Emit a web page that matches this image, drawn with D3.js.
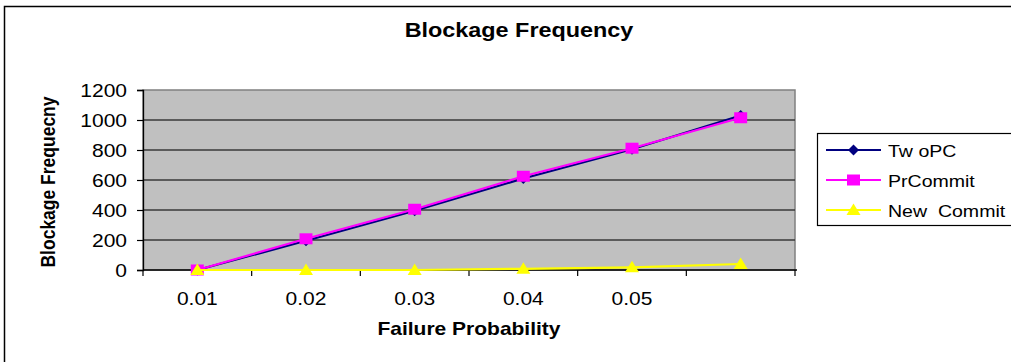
<!DOCTYPE html>
<html>
<head>
<meta charset="utf-8">
<script src="https://cdn.jsdelivr.net/npm/d3@7"></script>
<style>
  html, body { margin: 0; padding: 0; background: #fff; }
  svg { display: block; }
  text { font-family: "Liberation Sans", Arial, sans-serif; fill: #000; }
</style>
</head>
<body>
<svg id="chart" width="1011" height="362"></svg>
<script>
// Failure probability categories (last slot carries no label)
const categories = ["0.01", "0.02", "0.03", "0.04", "0.05", ""];
const tickLabels = ["0.01", "0.02", "0.03", "0.04", "0.05", ""];

// Blockage counts per protocol
const twoPC     = [0, 195, 395, 610, 805, 1030];
const prCommit  = [0, 208, 405, 625, 812, 1015];
const newCommit = [0, 0, 0, 8, 18, 40];

const seriesNames = ["Tw oPC", "PrCommit", "New  Commit"];
const yTicks = [0, 200, 400, 600, 800, 1000, 1200];

const series = [
  { name: seriesNames[0], values: twoPC,     color: "#000080", marker: "diamond" },
  { name: seriesNames[1], values: prCommit,  color: "#ff00ff", marker: "square" },
  { name: seriesNames[2], values: newCommit, color: "#ffff00", marker: "triangle" }
];

const SX = 1.2; // horizontal text stretch
const svg = d3.select("#chart");

// outer frame
svg.append("rect")
  .attr("x", 4.5).attr("y", 6.5)
  .attr("width", 1040).attr("height", 420)
  .attr("fill", "#fff").attr("stroke", "#000").attr("stroke-width", 1.5);

const plot = { left: 143, right: 795, top: 90, bottom: 270 };

const x = d3.scaleBand().domain(categories).range([plot.left, plot.right]).paddingInner(0).paddingOuter(0);
const y = d3.scaleLinear().domain([0, 1200]).range([plot.bottom, plot.top]);
const cx = c => x(c) + x.bandwidth() / 2;

function stretchedText(parent, px, py, str, sx = SX) {
  return parent.append("text")
    .attr("transform", `translate(${px},${py}) scale(${sx},1)`)
    .text(str);
}

// plot background
svg.append("rect")
  .attr("x", plot.left).attr("y", plot.top)
  .attr("width", plot.right - plot.left).attr("height", plot.bottom - plot.top)
  .attr("fill", "#c0c0c0")
  .attr("stroke", "#808080").attr("stroke-width", 1.5);

// horizontal gridlines
svg.append("g").selectAll("line")
  .data(yTicks.filter(d => d > 0 && d < 1200))
  .join("line")
  .attr("x1", plot.left).attr("x2", plot.right)
  .attr("y1", d => y(d)).attr("y2", d => y(d))
  .attr("stroke", "#3a3a3a").attr("stroke-width", 1.3);

// y axis
const yAxis = svg.append("g")
  .attr("transform", `translate(${plot.left},0)`)
  .call(d3.axisLeft(y).tickValues(yTicks).tickSize(6).tickPadding(7.3).tickFormat(d3.format("d")));
yAxis.select(".domain").attr("stroke", "#000").attr("stroke-width", 1.3);
yAxis.selectAll(".tick line").attr("stroke", "#000").attr("stroke-width", 1.2);
yAxis.selectAll(".tick text")
  .attr("font-size", 17.5)
  .attr("font-family", "Liberation Sans, Arial, sans-serif")
  .attr("fill", "#000")
  .attr("dy", "0.36em")
  .attr("transform", `scale(${SX},1)`);

// x axis: baseline, boundary ticks, centered labels
const xAxis = svg.append("g");
xAxis.append("line")
  .attr("x1", plot.left).attr("x2", plot.right + 2)
  .attr("y1", plot.bottom).attr("y2", plot.bottom)
  .attr("stroke", "#000").attr("stroke-width", 1.5);
const boundaries = categories.map(c => x(c)).concat([x.range()[1]]);
xAxis.selectAll("line.tk")
  .data(boundaries)
  .join("line")
  .attr("class", "tk")
  .attr("x1", d => d).attr("x2", d => d)
  .attr("y1", plot.bottom).attr("y2", plot.bottom + 6)
  .attr("stroke", "#000").attr("stroke-width", 1.2);
categories.forEach((c, i) => {
  stretchedText(xAxis, cx(c), 305, tickLabels[i])
    .attr("font-size", 17.5)
    .attr("text-anchor", "middle");
});

// marker shapes
function markerPath(type) {
  if (type === "diamond") return "M0,-5.5L5.5,0L0,5.5L-5.5,0Z";
  if (type === "square") return "M-6.5,-5.5H6.5V5.5H-6.5Z";
  return "M0,-6.5L7,5L-7,5Z";
}

// series lines and markers
const line = d3.line().x((d, i) => cx(categories[i])).y(d => y(d));
series.forEach(s => {
  const g = svg.append("g");
  g.append("path")
    .attr("d", line(s.values))
    .attr("fill", "none")
    .attr("stroke", s.color)
    .attr("stroke-width", 2.2);
  g.selectAll("path.m")
    .data(s.values)
    .join("path")
    .attr("class", "m")
    .attr("d", markerPath(s.marker))
    .attr("transform", (d, i) => `translate(${cx(categories[i])},${y(d)})`)
    .attr("fill", s.color);
});

// title
stretchedText(svg, 519, 37, "Blockage Frequency")
  .attr("font-size", 19.5).attr("font-weight", "bold").attr("text-anchor", "middle");

// x axis title
stretchedText(svg, (plot.left + plot.right) / 2, 335, "Failure Probability")
  .attr("font-size", 17.5).attr("font-weight", "bold").attr("text-anchor", "middle");

// y axis title
svg.append("text")
  .attr("transform", `translate(55,182) scale(${SX},1) rotate(-90)`)
  .attr("font-size", 17.5).attr("font-weight", "bold").attr("text-anchor", "middle")
  .text("Blockage Frequecny");

// legend
const legend = svg.append("g");
legend.append("rect")
  .attr("x", 817.5).attr("y", 133.5)
  .attr("width", 220).attr("height", 92)
  .attr("fill", "#fff").attr("stroke", "#000").attr("stroke-width", 1.2);
series.forEach((s, i) => {
  const ly = 150 + i * 30;
  legend.append("line")
    .attr("x1", 826).attr("x2", 881)
    .attr("y1", ly).attr("y2", ly)
    .attr("stroke", s.color).attr("stroke-width", 2.2);
  legend.append("path")
    .attr("d", markerPath(s.marker))
    .attr("transform", `translate(853.5,${ly})`)
    .attr("fill", s.color);
  stretchedText(legend, 888, ly + 6.5, s.name, 1.15)
    .attr("font-size", 17)
    .style("white-space", "pre");
});
</script>
</body>
</html>
